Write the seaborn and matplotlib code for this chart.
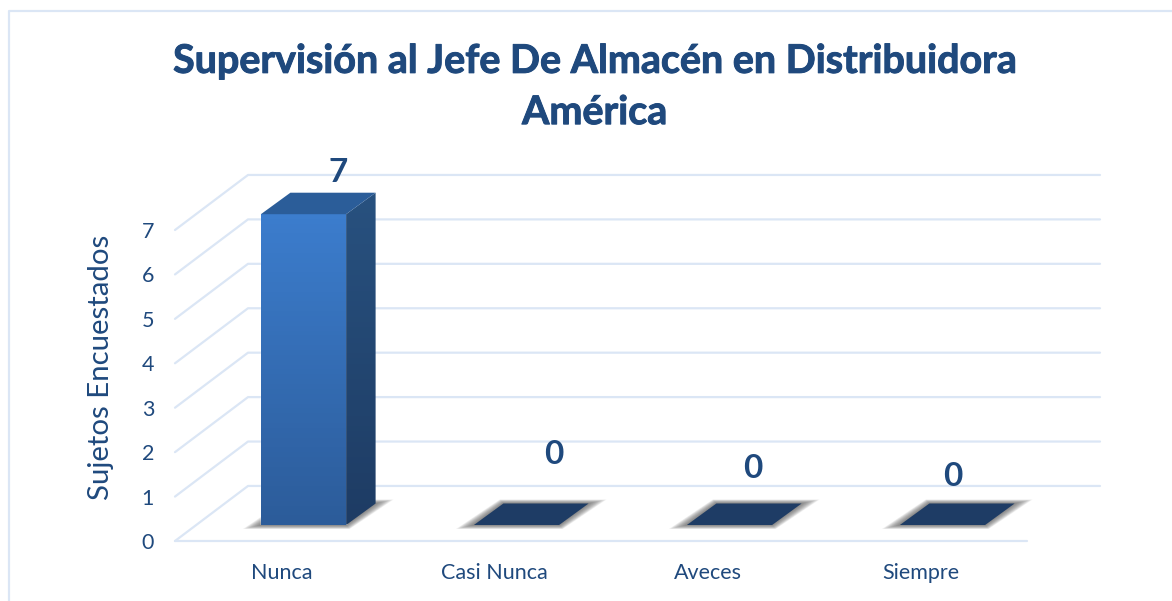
import numpy as np
import pandas as pd
import seaborn as sns
import matplotlib.pyplot as plt
import matplotlib.patheffects as pe
from matplotlib.colors import LinearSegmentedColormap
from matplotlib.patches import Polygon

categorias = ['Nunca', 'Casi Nunca', 'Aveces', 'Siempre']
sujetos = [7, 0, 0, 0]
ticks_y = [0, 1, 2, 3, 4, 5, 6, 7]
titulo = 'Supervisión al Jefe De Almacén en Distribuidora\nAmérica'
etiqueta_y = 'Sujetos Encuestados'
# where the value labels were dragged to, in pixels from the top of each bar
desvio_etiquetas = [(35, 42), (37, 71), (23, 57), (10, 48)]

AZUL = '#1f497d'
GRID = '#dbe6f5'
W, H = 1172, 601

sns.set_theme(style='white')
plt.rcParams['font.family'] = ['Lato', 'DejaVu Sans']

fig = plt.figure(figsize=(W / 100, H / 100), dpi=100, facecolor='white')


def ejes(left, right, bottom, top):
    # axes from pixel edges, y measured from the top of the picture
    a = fig.add_axes([left / W, 1 - bottom / H, (right - left) / W, (bottom - top) / H])
    a.patch.set_alpha(0)
    sns.despine(ax=a, left=True, bottom=True)
    return a


# outer frame of the chart area
marco = fig.add_axes([0, 0, 1, 1], zorder=-1)
marco.set_xlim(0, W)
marco.set_ylim(H, 0)
marco.axis('off')
marco.plot([8.5, 8.5, W], [H, 11, 11], color=GRID, lw=1.6)

# front plane: axis labels and the floor
ax = ejes(175, 1027, 541, 230)
ax.set_xlim(-0.5, 3.5)
ax.set_ylim(0, 7)
ax.set_xticks(range(len(categorias)))
ax.set_xticklabels(categorias, fontsize=15.5, color=AZUL)
ax.set_yticks(ticks_y)
ax.set_yticklabels(ticks_y, fontsize=15.5, color=AZUL)
ax.tick_params(axis='x', length=0, pad=15.8)
ax.tick_params(axis='y', length=0, pad=15)
ax.set_ylabel(etiqueta_y, fontsize=21.2, color=AZUL)
ax.yaxis.set_label_coords((114 - 175) / 852, (541 - 367) / 311)

# wall depth, in data units of the front plane
prof_x, prof_y = 73 / 213, 55 / 44.4
for v in ticks_y:
    ax.plot([-0.5, -0.5 + prof_x, 3.5 + prof_x], [v, v + prof_y, v + prof_y],
            color=GRID, lw=1.6, clip_on=False, zorder=1)
ax.plot([-0.5, 3.5], [0, 0], color=GRID, lw=1.6, clip_on=False, zorder=1)

# bars stand a little inside the box; axes run up to 8 so the bar depth is not cut
ax2 = ejes(197, 1049, 525, 525 - 8 * 44.4)
df = pd.DataFrame({'categoria': categorias, 'sujetos': sujetos})
sns.barplot(data=df, x='categoria', y='sujetos', color='#3a78c8', width=0.4,
            saturation=1, ax=ax2)
ax2.set_xlabel('')
ax2.set_ylabel('')
ax2.set_xticks([])
ax2.set_yticks([])

dx, dy = 29.5 / 213, 21.5 / 44.4


def degradado(poly_pts, c_arriba, c_abajo, z):
    # vertical gradient clipped to a polygon
    pts = np.array(poly_pts)
    cmap = LinearSegmentedColormap.from_list('g', [c_arriba, c_abajo])
    im = ax2.imshow(np.linspace(0, 1, 64).reshape(-1, 1), cmap=cmap, aspect='auto',
                    extent=[pts[:, 0].min(), pts[:, 0].max(), pts[:, 1].min(), pts[:, 1].max()],
                    origin='upper', zorder=z)
    clip = Polygon(poly_pts, closed=True, transform=ax2.transData, fc='none', ec='none')
    ax2.add_patch(clip)
    im.set_clip_path(clip)


for barra, valor in zip(ax2.patches, sujetos):
    x0, x1 = barra.get_x(), barra.get_x() + barra.get_width()
    # soft shadow on the floor, wide to the sides and thin above and below
    for k in np.linspace(1, 0, 14):
        ex, ey = k * 18 / 213, k * 4 / 44.4
        ax2.add_patch(Polygon([(x0 - ex, -ey), (x1 + ex * 0.2, -ey),
                               (x1 + dx + ex, dy + ey), (x0 + dx - ex * 0.2, dy + ey)],
                              fc='#555555', ec='none', alpha=0.08, zorder=2, clip_on=False))
    if valor > 0:
        barra.set_zorder(3)
        degradado([(x0, 0), (x1, 0), (x1, valor), (x0, valor)], '#3c7dcd', '#2c5c9a', 4)
        degradado([(x1, 0), (x1 + dx, dy), (x1 + dx, valor + dy), (x1, valor)], '#28517f', '#1e3c64', 4)
        ax2.add_patch(Polygon([(x0, valor), (x1, valor), (x1 + dx, valor + dy), (x0 + dx, valor + dy)],
                              fc='#2b5d99', ec='none', zorder=4, clip_on=False))
    else:
        ax2.add_patch(Polygon([(x0, 0), (x1, 0), (x1 + dx, dy), (x0 + dx, dy)],
                              fc='#1e3c65', ec='none', zorder=4, clip_on=False))

ax2.set_xlim(-0.5, 3.5)
ax2.set_ylim(0, 8)

for i, (valor, off) in enumerate(zip(sujetos, desvio_etiquetas)):
    ax2.annotate(str(valor), (i, valor), xytext=off, textcoords='offset pixels',
                 ha='center', va='center', fontsize=24, fontweight='bold', color=AZUL,
                 annotation_clip=False, zorder=6)

tit = fig.text(594.5 / W, 1 - 87 / H, titulo, ha='center', va='center', fontsize=28.4,
               fontweight='bold', color=AZUL, linespacing=1.56)
tit.set_path_effects([pe.withStroke(linewidth=0.7, foreground=AZUL)])

fig.savefig('out.png', dpi=100)
